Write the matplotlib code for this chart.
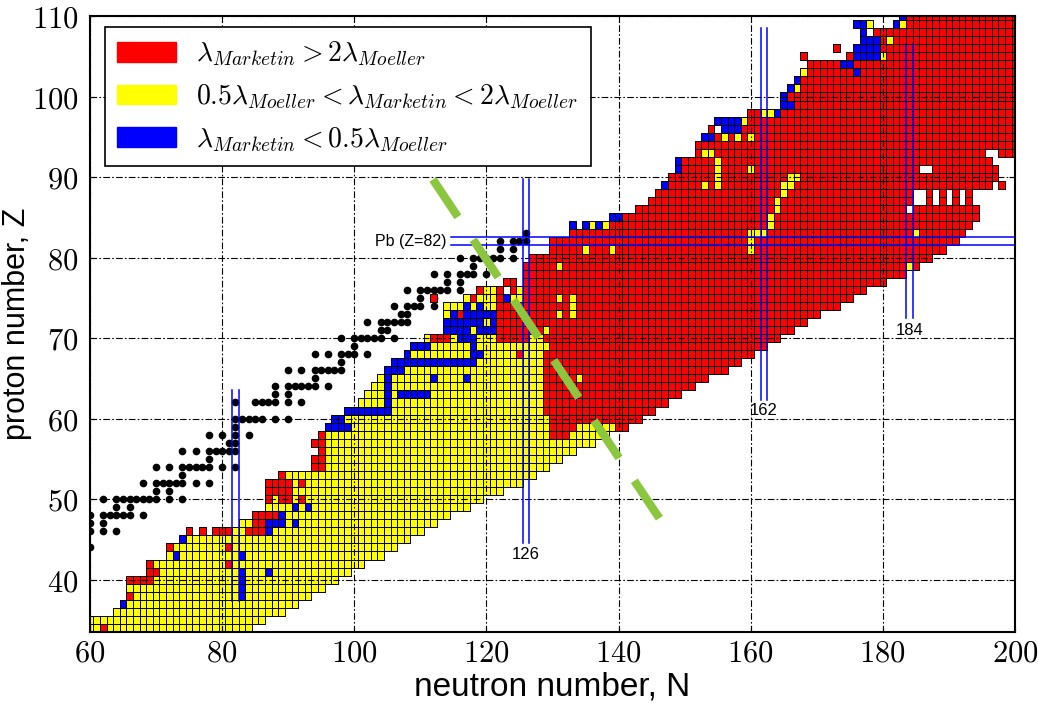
import matplotlib
matplotlib.use('Agg')
import matplotlib.pyplot as plt
from matplotlib.patches import Rectangle, Patch
from matplotlib.collections import PatchCollection

plt.rcParams['mathtext.fontset'] = 'cm'

# ---- data --------------------------------------------------------------
# one row of cells per proton number Z: first N, last N, N where red starts
z_rows = list(range(34, 111))
n_first = [60, 60, 64, 65, 66, 66, 66, 69, 69, 72,          # Z 34-43
           72, 74, 75, 83, 85, 87, 87, 87, 87, 89,          # Z 44-53
           94, 94, 95, 94, 95, 96, 97, 99, 101, 102,        # Z 54-63
           103, 104, 105, 106, 108, 109, 111, 114, 114, 114,  # Z 64-73
           114, 117, 119, 123, 126, 126, 127, 130, 130, 133,  # Z 74-83
           133, 139, 143, 145, 146, 147, 148, 149, 149, 152,  # Z 84-93
           152, 153, 154, 155, 160, 165, 165, 166, 167, 168,  # Z 94-103
           169, 168, 173, 177, 177, 176, 183]               # Z 104-110
n_last = [84, 86, 89, 91, 93, 95, 97, 99, 101, 104,
          106, 108, 110, 112, 114, 117, 119, 122, 125, 127,
          129, 131, 133, 136, 138, 141, 143, 145, 147, 149,
          151, 153, 156, 158, 160, 162, 164, 166, 168, 170,
          173, 175, 177, 180, 183, 185, 187, 189, 191, 192,
          193, 194, 194, 193, 193, 198, 197, 197, 196, 201,
          201, 201, 201, 201, 201, 201, 201, 201, 201, 201,
          201, 201, 201, 201, 201, 201, 201]
NO = 999  # row has no red block
n_red = [NO, NO, NO, NO, NO, NO, NO, NO, NO, NO,
         NO, NO, NO, NO, NO, NO, NO, NO, NO, NO,
         NO, NO, NO, NO, NO, 130, 130, 129, 129, 129,
         129, 129, 129, 129, 129, 129, 122, 122, 122, 122,
         122, 122, 122, 122, 0, 0, 0, 0, 0, 0,
         0, 0, 0, 0, 0, 0, 0, 0, 0, 0,
         0, 0, 0, 0, 0, 0, 0, 0, 0, 0,
         0, 0, 0, 0, 0, 0, 0]

# (N, Z) cells
holes = [(76, 46), (78, 46), (123, 76), (125, 77), (134, 84), (184, 86),
         (185, 87), (186, 87), (188, 87), (190, 87), (192, 87),
         (185, 88), (186, 88), (188, 88), (190, 88), (192, 88),
         (197, 89), (186, 91), (187, 91), (196, 93), (197, 93), (155, 96),
         (169, 105), (170, 105), (171, 105), (172, 105), (173, 105), (174, 105),
         (174, 106), (175, 106), (178, 108), (179, 109), (180, 109), (181, 109)]

red_cells = [(62, 34), (66, 38), (66, 40), (67, 40), (68, 40), (69, 40), (69, 41),
             (70, 41), (69, 42), (81, 42), (72, 44), (81, 44),
             (75, 46), (77, 46), (79, 46), (80, 46), (81, 46), (84, 46), (85, 46), (86, 46),
             (85, 47), (86, 47), (85, 48), (86, 48), (87, 48), (88, 48),
             (87, 50), (89, 50), (90, 50), (92, 50),
             (87, 51), (88, 51), (89, 51), (90, 51), (87, 52), (88, 52), (89, 52), (90, 52),
             (92, 52), (89, 53), (94, 54), (95, 54), (94, 55), (95, 55), (95, 56),
             (94, 57), (95, 57), (95, 58), (130, 58), (131, 58), (132, 58),
             (125, 68), (112, 70), (113, 70), (114, 70), (116, 73),
             (112, 75), (118, 75), (119, 76), (168, 105), (173, 106)]

yellow_cells = [(127, 70), (128, 70), (125, 76), (124, 75), (125, 75),
                (129, 69), (134, 65), (129, 71), (131, 73), (133, 73), (133, 74),
                (131, 75), (133, 75), (131, 79), (135, 81), (139, 81), (136, 84), (138, 84),
                (134, 59), (135, 59), (136, 59), (137, 59), (138, 59), (139, 59),
                (160, 81), (160, 82), (160, 83), (161, 83), (162, 83), (163, 84), (163, 85),
                (164, 86), (164, 87), (165, 88), (165, 89), (166, 89), (166, 90), (167, 90),
                (160, 91), (160, 95), (153, 89), (155, 89), (155, 90), (155, 91), (155, 92),
                (153, 93), (154, 93), (156, 95), (158, 95), (159, 97), (162, 98), (163, 98),
                (167, 101), (168, 103), (180, 105), (181, 107), (178, 109), (183, 109),
                (184, 79), (185, 83)]

blue_cells = [(65, 37), (73, 43), (74, 45), (87, 46), (87, 47), (88, 47), (89, 47), (91, 47),
              (89, 48), (91, 49), (93, 49), (87, 41),
              (83, 38), (83, 39), (83, 40), (83, 41), (83, 43),
              (96, 59), (97, 59), (98, 59), (99, 59), (97, 60), (98, 60),
              (99, 61), (100, 61), (101, 61), (102, 61), (103, 61), (104, 61), (105, 61),
              (105, 62), (105, 63), (107, 63), (108, 63), (109, 63), (110, 63), (111, 63),
              (105, 64), (105, 65), (112, 65), (117, 65), (105, 66), (106, 66), (107, 66),
              (106, 67), (107, 67), (108, 67), (109, 67), (110, 67), (111, 67), (112, 67),
              (113, 67), (114, 67), (115, 67), (116, 67), (117, 67), (118, 67),
              (108, 68), (118, 68), (119, 68), (109, 69), (110, 69), (111, 69), (118, 69),
              (116, 70), (117, 70), (118, 70),
              (114, 71), (115, 71), (116, 71), (117, 71), (119, 71), (120, 71), (121, 71),
              (114, 72), (115, 72), (116, 72), (117, 72), (118, 72), (119, 72), (121, 72),
              (115, 73), (117, 73), (118, 73), (119, 73), (120, 73), (121, 73),
              (117, 74), (119, 74), (123, 75),
              (133, 84), (135, 84), (137, 84), (139, 85), (140, 85), (147, 89),
              (149, 91), (149, 92), (153, 95), (154, 95), (156, 96), (157, 96), (158, 96),
              (155, 97), (156, 97), (157, 97), (158, 97), (164, 98), (165, 99), (166, 99),
              (165, 100), (166, 101), (167, 102), (176, 103), (174, 104), (175, 104),
              (176, 105), (177, 105), (178, 105), (179, 105),
              (176, 106), (177, 106), (178, 106), (179, 106),
              (177, 107), (178, 107), (179, 107), (177, 108),
              (176, 109), (177, 109), (182, 109), (183, 110)]

# stable nuclei (black dots): Z -> list of N
stable = {44: [60], 46: [60, 62, 64], 47: [60, 62],
          48: [60, 62, 63, 64, 65, 66, 68], 49: [64, 66],
          50: [62, 64, 65, 66, 67, 68, 69, 70, 72, 74], 51: [70, 72],
          52: [68, 70, 71, 72, 73, 74, 76, 78], 53: [74],
          54: [70, 72, 74, 75, 76, 77, 78, 80, 82], 55: [78],
          56: [74, 76, 78, 79, 80, 81, 82], 57: [81, 82], 58: [78, 80, 82, 84],
          59: [82], 60: [82, 83, 84, 85, 86, 88, 90], 62: [82, 85, 86, 87, 88, 90, 92],
          63: [88, 90], 64: [88, 90, 91, 92, 93, 94, 96], 65: [94],
          66: [90, 92, 94, 95, 96, 97, 98], 67: [98], 68: [94, 96, 98, 99, 100, 102],
          69: [100], 70: [98, 100, 101, 102, 103, 104, 106], 71: [104, 105],
          72: [102, 104, 105, 106, 107, 108], 73: [107, 108],
          74: [106, 108, 109, 110, 112], 75: [110, 112],
          76: [108, 110, 111, 112, 113, 114, 116], 77: [114, 116],
          78: [112, 114, 116, 117, 118, 120], 79: [118],
          80: [116, 118, 119, 120, 121, 122, 124], 81: [122, 124],
          82: [122, 124, 125, 126], 83: [126]}

# magic numbers: N, top Z, bottom Z, label Z
magic_n = [82, 126, 162, 184]
magic_top = [63.6, 89.7, 108.5, 106.5]
magic_bottom = [37.4, 44.5, 62.3, 72.5]
magic_label_z = [None, 43.1, 61.0, 71.0]

green_start = (111.9, 89.7)
green_end = (146.2, 47.6)

labels = [r'$\lambda_{Marketin} > 2\lambda_{Moeller}$',
          r'$0.5\lambda_{Moeller} < \lambda_{Marketin} < 2\lambda_{Moeller}$',
          r'$\lambda_{Marketin} < 0.5\lambda_{Moeller}$']
colors = {'r': '#ff0000', 'y': '#ffff00', 'b': '#0000ff'}

# ---- build the cell map --------------------------------------------------
cells = {}
for z, lo, hi, nr in zip(z_rows, n_first, n_last, n_red):
    for n in range(lo, hi + 1):
        cells[(n, z)] = 'r' if n >= nr else 'y'
for c in holes:
    cells.pop(c, None)
for c in red_cells:
    cells[c] = 'r'
for c in yellow_cells:
    cells[c] = 'y'
for c in blue_cells:
    cells[c] = 'b'

# ---- plot -----------------------------------------------------------------
fig = plt.figure(figsize=(10.38, 7.04), dpi=100)
ax = fig.add_axes([0.0867, 0.1023, 0.8911, 0.875])

sn = [n for z in stable for n in stable[z]]
sz = [z for z in stable for n in stable[z]]
ax.plot(sn, sz, 'o', color='black', ms=4.5, zorder=1)

rects = [Rectangle((n - 0.5, z - 0.5), 1, 1) for (n, z) in cells]
pc = PatchCollection(rects, facecolors=[colors[c] for c in cells.values()],
                     edgecolors='black', linewidths=0.7, zorder=2)
ax.add_collection(pc)

for n, top, bot, lz in zip(magic_n, magic_top, magic_bottom, magic_label_z):
    for off in (-0.5, 0.5):
        ax.plot([n + off, n + off], [bot, top], color='blue', lw=1.1, zorder=3)
    if lz is not None:
        ax.text(n, lz, str(n), ha='center', va='center', fontsize=12,
                family='Liberation Sans', zorder=3)

for off in (-0.5, 0.5):
    ax.plot([114.7, 200], [82 + off, 82 + off], color='blue', lw=1.1, zorder=3)
ax.text(113.9, 82, 'Pb (Z=82)', ha='right', va='center', fontsize=11.5,
        family='Liberation Sans', zorder=3)

ax.plot([green_start[0], green_end[0]], [green_start[1], green_end[1]],
        color='#8cc63f', lw=6, dashes=(5.4, 3.3), dash_capstyle='butt', zorder=4)

ax.set_xlim(60, 200)
ax.set_ylim(33.5, 110)
xt = list(range(60, 201, 20))
yt = list(range(40, 111, 10))
ax.set_xticks(xt)
ax.set_yticks(yt)
ax.set_xticklabels(['$%d$' % v for v in xt], fontsize=22)
ax.set_yticklabels(['$%d$' % v for v in yt], fontsize=22)
ax.tick_params(direction='in', top=True, right=True, length=4, pad=5)
ax.tick_params(axis='y', pad=8)
ax.set_axisbelow(False)
ax.grid(True, color='black', lw=0.8, linestyle=(0, (6, 2, 1.5, 2)))
for s in ax.spines.values():
    s.set_linewidth(1.5)

ax.set_xlabel('neutron number, N', fontsize=24, family='Liberation Sans')
ax.set_ylabel('proton number, Z', fontsize=22, family='Liberation Sans')
ax.xaxis.set_label_coords(0.5, -0.064)
ax.yaxis.set_label_coords(-0.063, 0.5)

handles = [Patch(facecolor=colors[k], edgecolor=colors[k]) for k in ('r', 'y', 'b')]
leg = ax.legend(handles, labels, loc='upper left', bbox_to_anchor=(0.016, 0.982),
                borderaxespad=0, fontsize=20, fancybox=False, framealpha=1,
                edgecolor='black', handlelength=2.1, handleheight=0.72,
                handletextpad=0.75, labelspacing=0.5, borderpad=0.45)
leg.get_frame().set_linewidth(1.2)
leg.set_zorder(6)

plt.savefig('out.png', dpi=100)
